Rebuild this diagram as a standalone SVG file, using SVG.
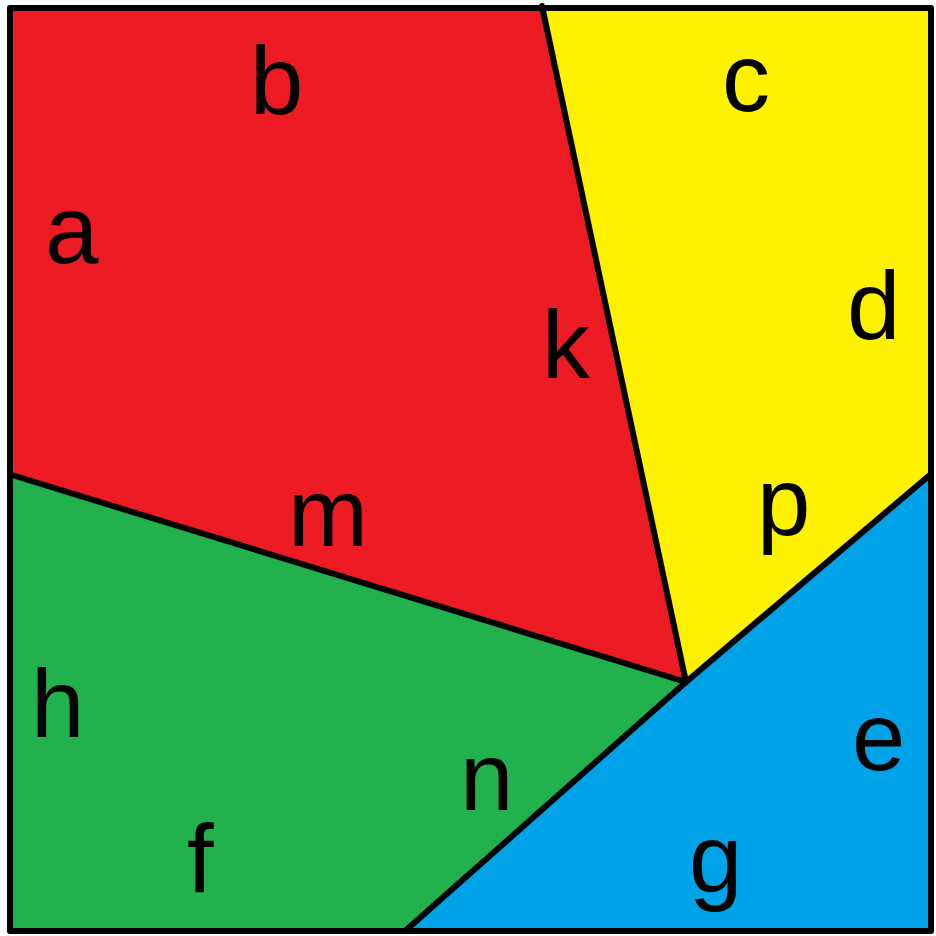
<svg xmlns="http://www.w3.org/2000/svg" width="936" height="936" viewBox="0 0 936 936">
<style>
.r{fill:#ED1C24}.y{fill:#FFF200}.gr{fill:#22B14C}.bl{fill:#00A2E8}
.ln{stroke:#000;stroke-width:6;fill:none;stroke-linecap:round;stroke-linejoin:round}
text{font-family:"Liberation Sans",Arial,sans-serif;font-size:96px;fill:#000}
</style>
<rect width="936" height="936" fill="#fff"/>
<g id="red"><polygon class="r" points="10,8 542,8 686,682 12,475 10,475"/></g>
<g id="yellow"><polygon class="y" points="542,8 931,8 931,474 686,682"/></g>
<g id="green"><polygon class="gr" points="10,475 686,682 405,931 10,931"/></g>
<g id="blue"><polygon class="bl" points="686,682 931,474 931,931 405,931"/></g>
<g id="connectors">
<line class="ln" x1="542" y1="6" x2="686" y2="682"/>
<line class="ln" x1="12" y1="475" x2="686" y2="682"/>
<polyline class="ln" points="405,931 686,682 931,474"/>
<rect class="ln" x="10" y="8" width="921" height="923" stroke-linecap="butt" stroke-linejoin="miter"/>
</g>
<g id="labels">
<text x="250" y="114">b</text>
<text x="722" y="111">c</text>
<text x="45" y="263">a</text>
<text x="847" y="339">d</text>
<text x="542" y="378">k</text>
<text x="288" y="546">m</text>
<text x="757" y="535">p</text>
<text x="31" y="737">h</text>
<text x="852" y="770">e</text>
<text x="460" y="810">n</text>
<text x="187" y="892">f</text>
<text x="689" y="892">g</text>
</g>
</svg>
